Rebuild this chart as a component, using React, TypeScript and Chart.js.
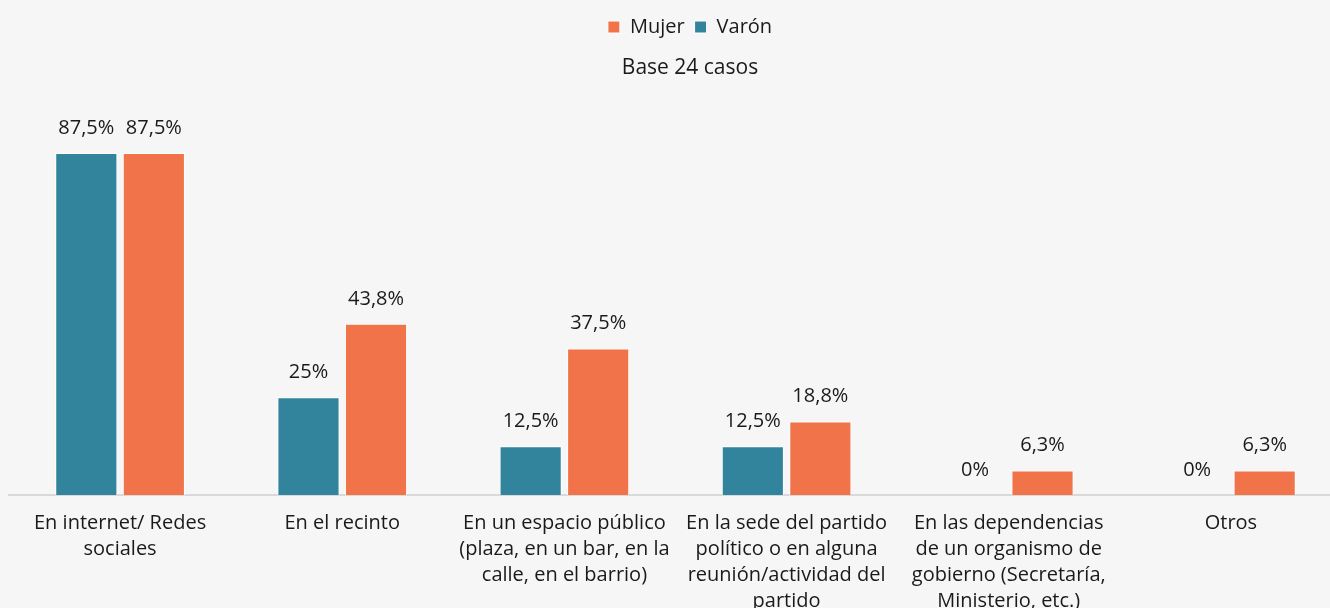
import React, { useEffect, useRef } from "react";
import { Chart, registerables } from "chart.js";

Chart.register(...registerables);

const categories: string[][] = [
  ["En internet/ Redes", "sociales"],
  ["En el recinto"],
  ["En un espacio público", "(plaza, en un bar, en la", "calle, en el barrio)"],
  ["En la sede del partido", "político o en alguna", "reunión/actividad del", "partido"],
  ["En las dependencias", "de un organismo de", "gobierno (Secretaría,", "Ministerio, etc.)"],
  ["Otros"],
];
const varonValues = [87.5, 25, 12.5, 12.5, 0, 0];
const mujerValues = [87.5, 43.8, 37.5, 18.8, 6.3, 6.3];
const seriesNames = ["Varón", "Mujer"];
const subtitleText = "Base 24 casos";

const TEAL = "#31849b";
const ORANGE = "#f0734a";
const FONT = "'Open Sans', sans-serif";
const TEXT = "#1a1a1a";

const fmt = (v: number) => String(v).replace(".", ",") + "%";

const valueLabels = {
  id: "valueLabels",
  afterDatasetsDraw(chart: any) {
    const ctx = chart.ctx;
    ctx.save();
    ctx.font = `20px ${FONT}`;
    ctx.fillStyle = TEXT;
    ctx.textAlign = "center";
    ctx.textBaseline = "middle";
    chart.data.datasets.forEach((ds: any, i: number) => {
      const meta = chart.getDatasetMeta(i);
      meta.data.forEach((bar: any, j: number) => {
        ctx.fillText(fmt(ds.data[j]), bar.x, bar.y - 25);
      });
    });
    ctx.restore();
  },
};

export default function App() {
  const ref = useRef<HTMLCanvasElement | null>(null);
  useEffect(() => {
    if (!ref.current) return;
    const chart = new Chart(ref.current, {
      type: "bar",
      data: {
        labels: categories,
        datasets: [
          {
            label: seriesNames[0],
            data: varonValues,
            backgroundColor: TEAL,
            borderColor: "#ffffff",
            borderWidth: 1,
          },
          {
            label: seriesNames[1],
            data: mujerValues,
            backgroundColor: ORANGE,
            borderColor: "#ffffff",
            borderWidth: 1,
          },
        ],
      },
      options: {
        animation: false,
        responsive: false,
        maintainAspectRatio: false,
        datasets: {
          bar: { categoryPercentage: 0.608, barPercentage: 0.92 },
        },
        layout: { padding: { left: 9, right: 0, top: 7, bottom: 0 } },
        plugins: {
          legend: {
            reverse: true,
            weight: 3000,
            labels: {
              boxWidth: 12,
              boxHeight: 12,
              padding: 10,
              color: TEXT,
              font: { family: FONT, size: 20 },
            },
          },
          title: {
            display: true,
            text: subtitleText,
            weight: 500,
            color: TEXT,
            font: { family: FONT, size: 21, weight: "normal" },
            padding: { top: 8, bottom: 24 },
          },
          tooltip: { enabled: false },
        },
        scales: {
          x: {
            grid: { display: false },
            border: { display: true, color: "#d9d9d9", width: 2 },
            ticks: {
              autoSkip: false,
              maxRotation: 0,
              padding: 7,
              color: TEXT,
              font: { family: FONT, size: 20, lineHeight: 1.3 },
            },
          },
          y: {
            position: "right",
            display: true,
            min: 0,
            max: 100,
            grid: { display: false },
            border: { display: false },
            ticks: { display: false },
            afterFit: (scale: any) => {
              scale.width = 29;
            },
          },
        },
      },
      plugins: [valueLabels],
    });
    return () => chart.destroy();
  }, []);
  return (
    <div
      style={{
        position: "fixed",
        left: 0,
        top: 0,
        width: 1330,
        height: 608,
        overflow: "hidden",
        background: "#f6f6f6",
      }}
    >
      <canvas ref={ref} width={1371} height={621} style={{ display: "block" }} />
    </div>
  );
}
